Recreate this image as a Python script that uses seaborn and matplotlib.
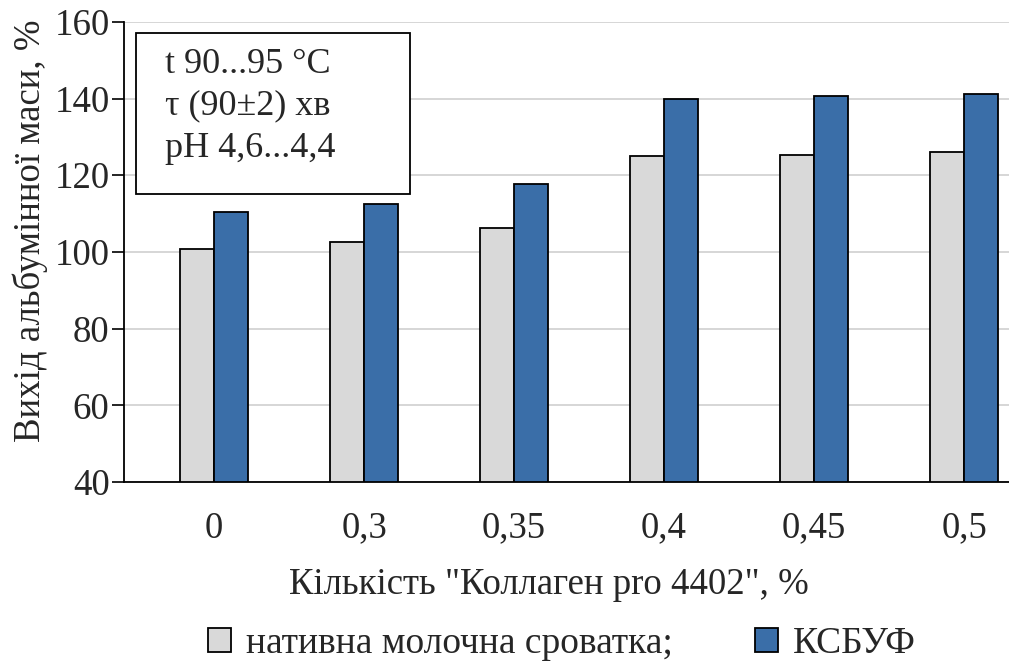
import matplotlib
matplotlib.use("Agg")
import matplotlib.pyplot as plt
from matplotlib.patches import Rectangle
import seaborn as sns
import pandas as pd

categories = ["0", "0,3", "0,35", "0,4", "0,45", "0,5"]
native_whey = [100.7, 102.5, 106.2, 125.0, 125.4, 126.0]
ksbuf = [110.3, 112.5, 117.7, 139.8, 140.7, 141.2]
series_names = ["нативна молочна сроватка;", "КСБУФ"]
y_ticks = [40, 60, 80, 100, 120, 140, 160]

sns.set_theme(style="white")
plt.rcParams['font.family'] = ['Liberation Serif', 'DejaVu Serif']

df = pd.DataFrame({
    "cat": categories * 2,
    "val": native_whey + ksbuf,
    "series": [series_names[0]] * len(categories) + [series_names[1]] * len(categories),
})

fig = plt.figure(figsize=(10.09, 6.62), dpi=100)
ax = fig.add_axes([0.123, 0.272, 0.877, 0.695])

sns.barplot(data=df, x="cat", y="val", hue="series", order=categories,
            hue_order=series_names, palette=["#D9D9D9", "#3A6EA8"],
            width=0.45, gap=0, edgecolor="black", linewidth=1.3, ax=ax,
            saturation=1)

ax.set_ylim(40, 160)
ax.set_xlim(-0.6, 5.3)
ax.set_yticks(y_ticks)
ax.yaxis.grid(True, color="#D0D0D0", linewidth=1.2)
ax.set_axisbelow(True)
for s in ["top", "right"]:
    ax.spines[s].set_visible(False)
for s in ["left", "bottom"]:
    ax.spines[s].set_color("black")
    ax.spines[s].set_linewidth(1.3)
ax.tick_params(axis="y", left=True, length=8.5, width=1.2, color="black", labelsize=26.5, pad=2)
ax.tick_params(axis="x", bottom=False, labelsize=26.5, pad=15)
ax.set_xlabel('Кількість "Коллаген pro 4402", %', fontsize=26.5)
ax.set_ylabel("Вихід альбумінної маси, %", fontsize=26.5)
ax.xaxis.set_label_coords(0.48, -0.187)
ax.yaxis.set_label_coords(-0.086, 0.545)

ax.add_patch(Rectangle((0.0136, 0.626), 0.3095, 0.35, transform=ax.transAxes,
                       facecolor="white", edgecolor="black", linewidth=1.3, zorder=5))
ax.text(0.046, 0.944, "t 90...95 °C\nτ (90±2) хв\npH 4,6...4,4", transform=ax.transAxes,
        fontsize=26, va="top", ha="left", linespacing=1.36, zorder=6)

handles, labels = ax.get_legend_handles_labels()
ax.get_legend().remove()
fig.legend(handles, labels, loc="center", bbox_to_anchor=(0.557, 0.027), ncol=2,
           frameon=False, fontsize=27, handlelength=0.6, handleheight=0.6,
           handletextpad=0.4, columnspacing=2.2, borderpad=0)

fig.savefig("out.png", dpi=100)
